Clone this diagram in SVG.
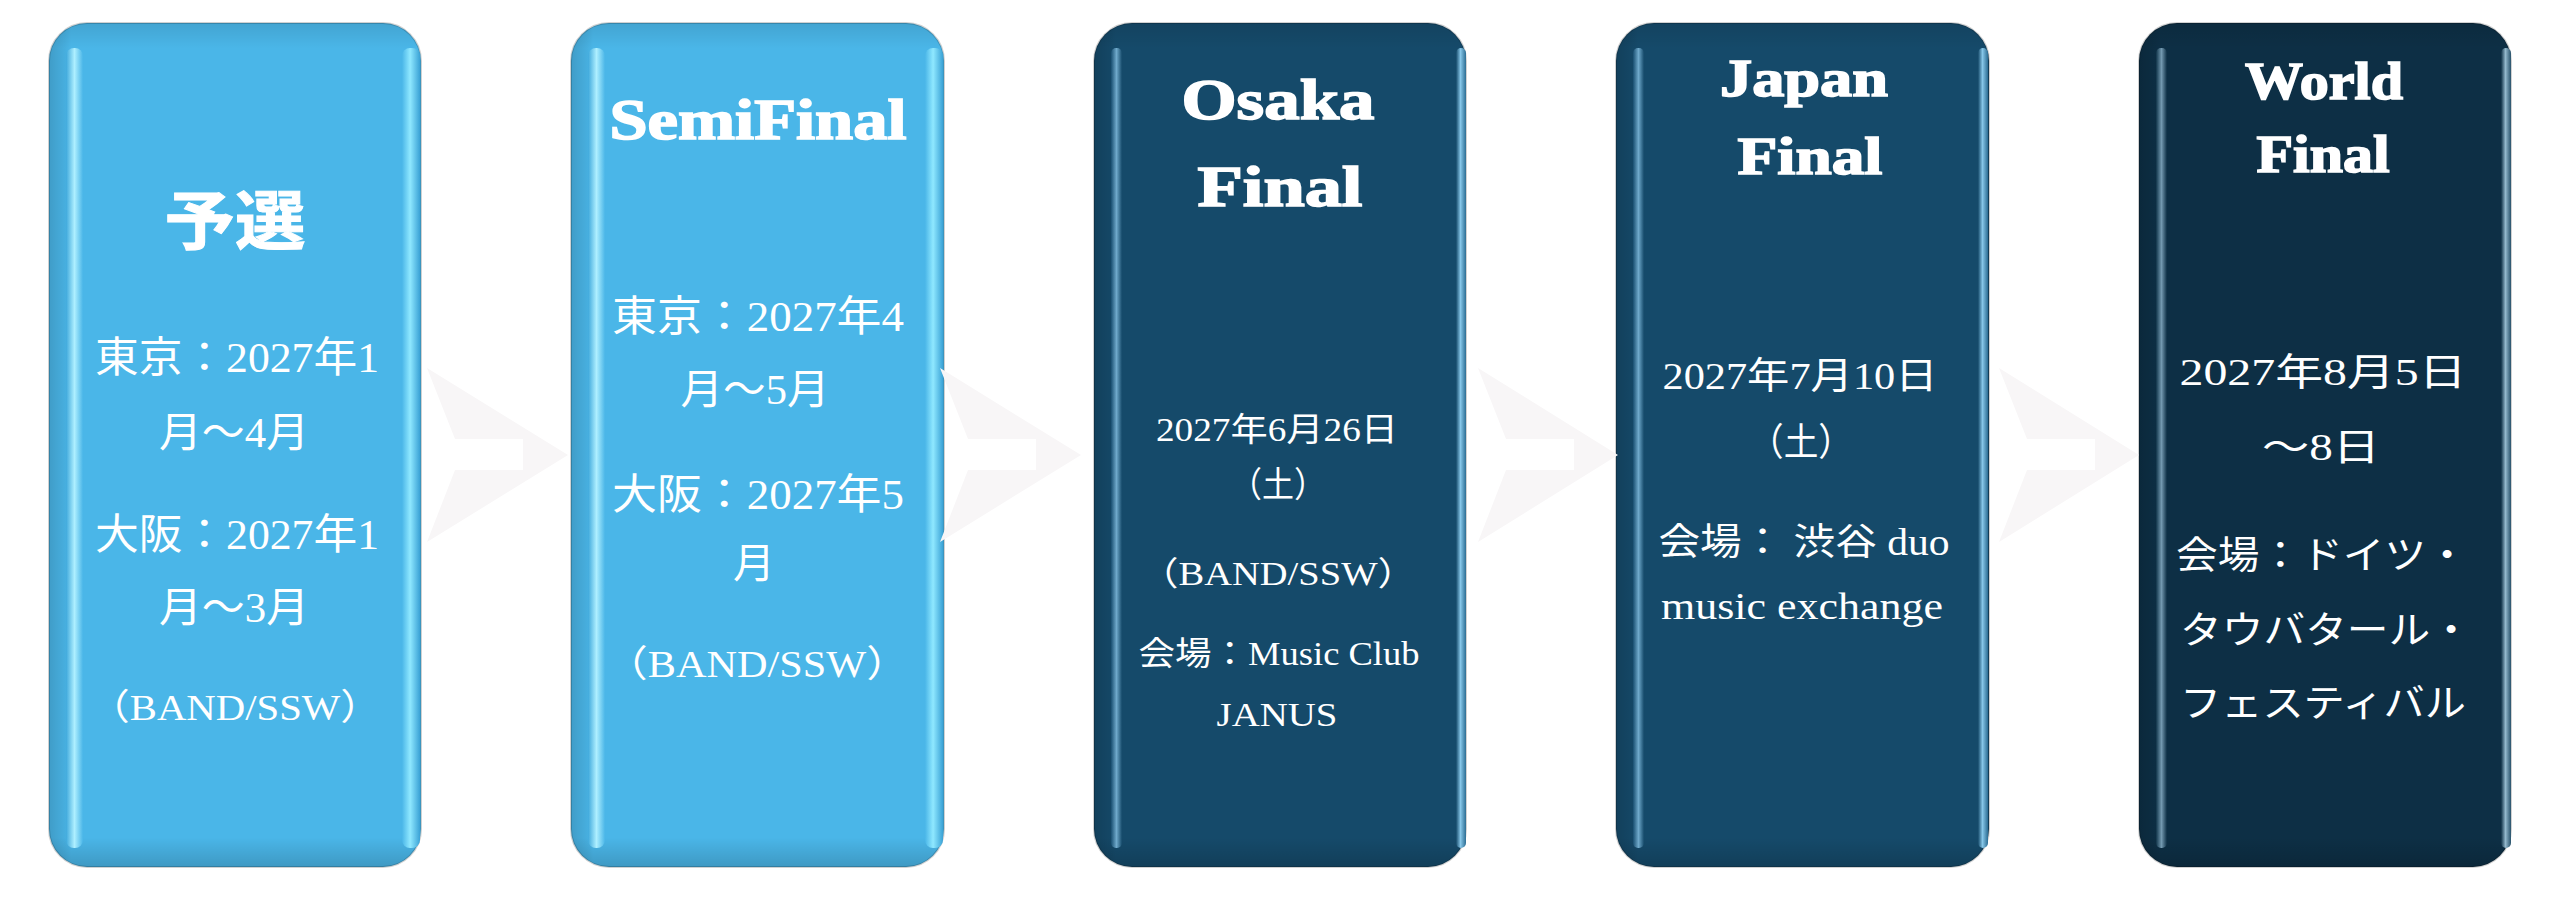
<svg xmlns="http://www.w3.org/2000/svg" width="2560" height="907" viewBox="0 0 2560 907">
<style>
.lt{fill:#4AB6E8}
.dk{fill:#154A6A}
.wd{fill:#0D2F45}
.rim{stroke:#000;stroke-opacity:0.18;stroke-width:2}
.t{fill:#fff;font-family:"Liberation Serif","Noto Sans CJK JP",serif;text-anchor:middle}
.ts{fill:#fff;font-family:"Liberation Serif","Noto Sans CJK JP",serif;text-anchor:start}
.ti{font-weight:bold;stroke:#fff;stroke-width:1.6}
.arr{fill:#F8F6F7}
</style>
<defs>
<linearGradient id="lsL" x1="0" y1="0" x2="1" y2="0"><stop offset="0" stop-color="#3FA9DC"/><stop offset="0.5" stop-color="#AEEFFF"/><stop offset="1" stop-color="#4AB6E8"/></linearGradient>
<linearGradient id="lsR" x1="0" y1="0" x2="1" y2="0"><stop offset="0" stop-color="#4AB6E8"/><stop offset="0.45" stop-color="#8FE8FF"/><stop offset="1" stop-color="#3AA2D6"/></linearGradient>
<linearGradient id="dsL" x1="0" y1="0" x2="1" y2="0"><stop offset="0" stop-color="#184E70"/><stop offset="0.5" stop-color="#6FA9CB"/><stop offset="1" stop-color="#154A6A"/></linearGradient>
<linearGradient id="dsR" x1="0" y1="0" x2="1" y2="0"><stop offset="0" stop-color="#154A6A"/><stop offset="0.45" stop-color="#86C6E8"/><stop offset="1" stop-color="#2C6D93"/></linearGradient>
<linearGradient id="wsL" x1="0" y1="0" x2="1" y2="0"><stop offset="0" stop-color="#103449"/><stop offset="0.5" stop-color="#7399B0"/><stop offset="1" stop-color="#0D2F45"/></linearGradient>
<linearGradient id="wsR" x1="0" y1="0" x2="1" y2="0"><stop offset="0" stop-color="#0D2F45"/><stop offset="0.45" stop-color="#93B8CC"/><stop offset="1" stop-color="#28526B"/></linearGradient>
<linearGradient id="shV" x1="0" y1="0" x2="0" y2="1"><stop offset="0" stop-color="#000" stop-opacity="0.1"/><stop offset="0.03" stop-color="#000" stop-opacity="0"/><stop offset="0.965" stop-color="#000" stop-opacity="0"/><stop offset="1" stop-color="#000" stop-opacity="0.16"/></linearGradient>
<linearGradient id="shH" x1="0" y1="0" x2="1" y2="0"><stop offset="0" stop-color="#000" stop-opacity="0.14"/><stop offset="0.045" stop-color="#000" stop-opacity="0.04"/><stop offset="0.06" stop-color="#000" stop-opacity="0"/><stop offset="1" stop-color="#000" stop-opacity="0"/></linearGradient>
</defs>

<g id="node-yosen">
<rect class="lt rim" x="49" y="23" width="372" height="844" rx="38"/>
<rect x="49" y="23" width="372" height="844" rx="38" fill="url(#shH)"/>
<rect x="49" y="23" width="372" height="844" rx="38" fill="url(#shV)"/>
<rect x="66" y="48" width="17" height="800" rx="8" fill="url(#lsL)"/>
<rect x="402" y="48" width="18" height="800" rx="8" fill="url(#lsR)"/>
<text class="t ti" x="235" y="244" font-size="64" textLength="141" lengthAdjust="spacingAndGlyphs" style="stroke-width:1">予選</text>
<text class="t" x="237" y="372" font-size="42" textLength="284" lengthAdjust="spacingAndGlyphs">東京：2027年1</text>
<text class="t" x="234" y="447" font-size="42" textLength="150" lengthAdjust="spacingAndGlyphs">月〜4月</text>
<text class="t" x="237" y="549" font-size="42" textLength="284" lengthAdjust="spacingAndGlyphs">大阪：2027年1</text>
<text class="t" x="234" y="622" font-size="42" textLength="150" lengthAdjust="spacingAndGlyphs">月〜3月</text>
<text class="t" x="235" y="720" font-size="36" textLength="292" lengthAdjust="spacingAndGlyphs">（BAND/SSW）</text>
</g>

<g id="node-semifinal">
<rect class="lt rim" x="571" y="23" width="373" height="844" rx="38"/>
<rect x="571" y="23" width="373" height="844" rx="38" fill="url(#shH)"/>
<rect x="571" y="23" width="373" height="844" rx="38" fill="url(#shV)"/>
<rect x="588" y="48" width="17" height="800" rx="8" fill="url(#lsL)"/>
<rect x="925" y="48" width="18" height="800" rx="8" fill="url(#lsR)"/>
<text class="t ti" x="758" y="139" font-size="56" textLength="297" lengthAdjust="spacingAndGlyphs">SemiFinal</text>
<text class="t" x="758" y="331" font-size="42" textLength="292" lengthAdjust="spacingAndGlyphs">東京：2027年4</text>
<text class="t" x="755" y="404" font-size="42" textLength="149" lengthAdjust="spacingAndGlyphs">月〜5月</text>
<text class="t" x="758" y="509" font-size="42" textLength="292" lengthAdjust="spacingAndGlyphs">大阪：2027年5</text>
<text class="t" x="754" y="578" font-size="42">月</text>
<text class="t" x="757" y="677" font-size="37" textLength="303" lengthAdjust="spacingAndGlyphs">（BAND/SSW）</text>
</g>

<g id="node-osaka-final">
<rect class="dk rim" x="1094" y="23" width="372" height="844" rx="38"/>
<rect x="1094" y="23" width="372" height="844" rx="38" fill="url(#shH)"/>
<rect x="1094" y="23" width="372" height="844" rx="38" fill="url(#shV)"/>
<rect x="1111" y="48" width="11" height="800" rx="5" fill="url(#dsL)"/>
<rect x="1456" y="48" width="10" height="800" rx="5" fill="url(#dsR)"/>
<text class="t ti" x="1278" y="119" font-size="57" textLength="193" lengthAdjust="spacingAndGlyphs">Osaka</text>
<text class="t ti" x="1280" y="206" font-size="57" textLength="165" lengthAdjust="spacingAndGlyphs">Final</text>
<text class="t" x="1277" y="441" font-size="33" textLength="242" lengthAdjust="spacingAndGlyphs">2027年6月26日</text>
<text class="t" x="1278" y="497" font-size="35" textLength="96" lengthAdjust="spacingAndGlyphs">（土）</text>
<text class="t" x="1278" y="585" font-size="33" textLength="276" lengthAdjust="spacingAndGlyphs">（BAND/SSW）</text>
<text class="t" x="1279" y="665" font-size="33" textLength="281" lengthAdjust="spacingAndGlyphs">会場：Music Club</text>
<text class="t" x="1277" y="726" font-size="33" textLength="121" lengthAdjust="spacingAndGlyphs">JANUS</text>
</g>

<g id="node-japan-final">
<rect class="dk rim" x="1616" y="23" width="373" height="844" rx="38"/>
<rect x="1616" y="23" width="373" height="844" rx="38" fill="url(#shH)"/>
<rect x="1616" y="23" width="373" height="844" rx="38" fill="url(#shV)"/>
<rect x="1633" y="48" width="11" height="800" rx="5" fill="url(#dsL)"/>
<rect x="1978" y="48" width="10" height="800" rx="5" fill="url(#dsR)"/>
<text class="t ti" x="1804" y="96" font-size="53" textLength="168" lengthAdjust="spacingAndGlyphs">Japan</text>
<text class="t ti" x="1810" y="174" font-size="53" textLength="145" lengthAdjust="spacingAndGlyphs">Final</text>
<text class="t" x="1800" y="389" font-size="37" textLength="275" lengthAdjust="spacingAndGlyphs">2027年7月10日</text>
<text class="t" x="1801" y="455" font-size="38" textLength="104" lengthAdjust="spacingAndGlyphs">（土）</text>
<text class="t" x="1804" y="555" font-size="37" textLength="291" lengthAdjust="spacingAndGlyphs">会場： 渋谷 duo</text>
<text class="t" x="1802" y="619" font-size="37" textLength="282" lengthAdjust="spacingAndGlyphs">music exchange</text>
</g>

<g id="node-world-final">
<rect class="wd rim" x="2139" y="23" width="372" height="844" rx="38"/>
<rect x="2139" y="23" width="372" height="844" rx="38" fill="url(#shH)"/>
<rect x="2139" y="23" width="372" height="844" rx="38" fill="url(#shV)"/>
<rect x="2156" y="48" width="11" height="800" rx="5" fill="url(#wsL)"/>
<rect x="2501" y="48" width="10" height="800" rx="5" fill="url(#wsR)"/>
<text class="t ti" x="2324" y="99" font-size="52" textLength="158" lengthAdjust="spacingAndGlyphs">World</text>
<text class="t ti" x="2323" y="172" font-size="52" textLength="133" lengthAdjust="spacingAndGlyphs">Final</text>
<text class="t" x="2323" y="385" font-size="38" textLength="287" lengthAdjust="spacingAndGlyphs">2027年8月5日</text>
<text class="t" x="2321" y="460" font-size="38" textLength="118" lengthAdjust="spacingAndGlyphs">〜8日</text>
<text class="ts" x="2176" y="568" font-size="38" textLength="292" lengthAdjust="spacingAndGlyphs">会場：ドイツ・</text>
<text class="ts" x="2180" y="643" font-size="38" textLength="292" lengthAdjust="spacingAndGlyphs">タウバタール・</text>
<text class="ts" x="2180" y="716" font-size="38" textLength="286" lengthAdjust="spacingAndGlyphs">フェスティバル</text>
</g>

<g id="connectors">
<polygon class="arr" points="427,368 568,455 427,542 455,470 523,470 523,439 455,439"/>
<polygon class="arr" points="940,368 1081,455 940,542 968,470 1036,470 1036,439 968,439"/>
<polygon class="arr" points="1478,368 1618,455 1478,542 1506,470 1574,470 1574,439 1506,439"/>
<polygon class="arr" points="1999,368 2139,455 1999,542 2027,470 2095,470 2095,439 2027,439"/>
</g>
</svg>
